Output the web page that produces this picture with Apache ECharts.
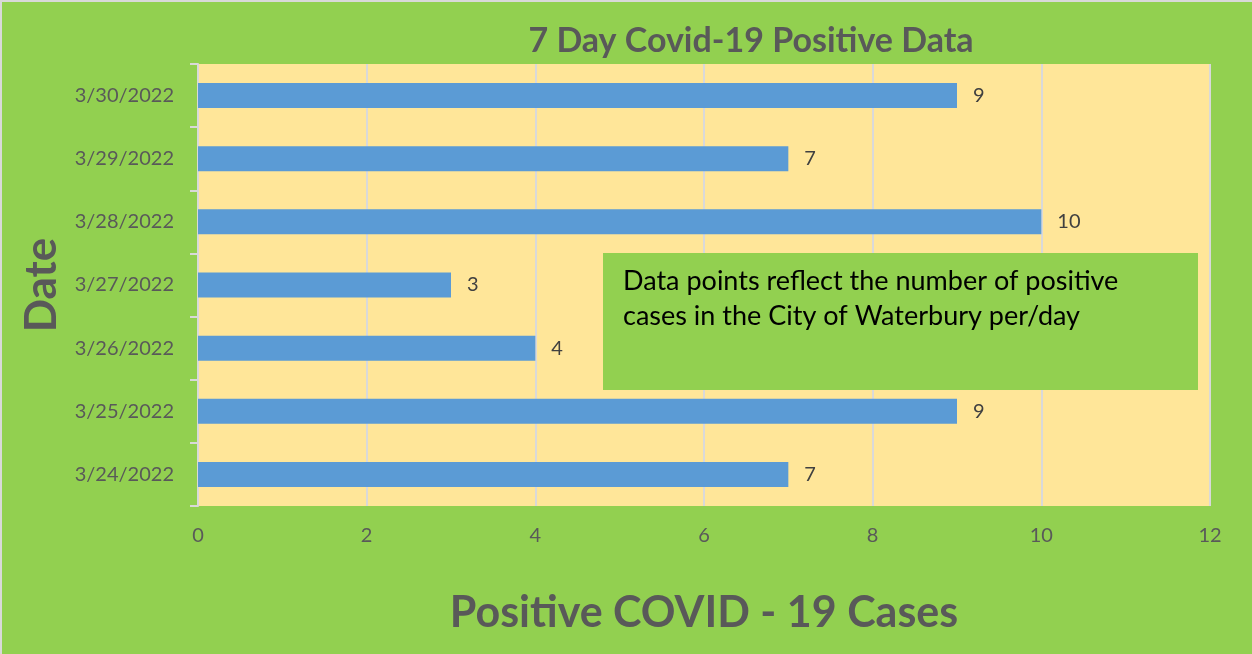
<!DOCTYPE html>
<html>
<head>
<meta charset="utf-8">
<script src="https://cdn.jsdelivr.net/npm/echarts@6/dist/echarts.min.js"></script>
<style>
  html, body { margin: 0; padding: 0; background: #ffffff; }
  #chart { width: 1252px; height: 654px; }
</style>
</head>
<body>
<div id="chart"></div>
<script>
// dates, bottom to top like the category axis
var dates = ['3/24/2022', '3/25/2022', '3/26/2022', '3/27/2022', '3/28/2022', '3/29/2022', '3/30/2022'];
var cases = [7, 9, 4, 3, 10, 7, 9];
var xTicks = [0, 2, 4, 6, 8, 10, 12];

var chart = echarts.init(document.getElementById('chart'));
var font = 'Lato, "Open Sans", sans-serif';

var option = {
    backgroundColor: '#ffffff',
    animation: false,
    title: {
        text: '7 Day Covid-19 Positive Data',
        left: 746,
        textAlign: 'center',
        top: 19,
        textStyle: { fontFamily: font, fontSize: 34, fontWeight: 'bold', color: '#595959' }
    },
    grid: {
        left: 198,
        top: 64,
        right: 42,
        bottom: 148,
        show: true,
        backgroundColor: '#FFE699',
        borderWidth: 0
    },
    xAxis: {
        type: 'value',
        min: xTicks[0],
        max: xTicks[xTicks.length - 1],
        interval: 2,
        name: 'Positive COVID - 19 Cases',
        nameLocation: 'middle',
        nameGap: 86,
        nameTextStyle: { fontFamily: font, fontSize: 43, fontWeight: 'bold', color: '#595959' },
        axisLine: { show: false },
        axisTick: { show: false },
        axisLabel: { fontFamily: font, fontSize: 20, color: '#595959', margin: 20 },
        splitLine: { show: true, lineStyle: { color: '#D9D9D9', width: 2 } }
    },
    yAxis: {
        type: 'category',
        data: dates,
        name: 'Date',
        nameLocation: 'middle',
        nameGap: 134,
        nameRotate: 90,
        nameTextStyle: { fontFamily: font, fontSize: 44, fontWeight: 'bold', color: '#595959' },
        axisLine: { show: true, lineStyle: { color: '#D9D9D9', width: 2 } },
        axisTick: { show: true, length: 8, lineStyle: { color: '#D9D9D9', width: 2 } },
        axisLabel: { fontFamily: font, fontSize: 20, color: '#595959', margin: 24 }
    },
    series: [{
        type: 'bar',
        data: cases,
        barWidth: 25,
        itemStyle: { color: '#5B9BD5' },
        label: {
            show: true,
            position: 'right',
            distance: 16,
            fontFamily: font,
            fontSize: 20,
            color: '#404040'
        }
    }],
    graphic: [
        {
            type: 'rect',
            left: 0, top: 0, z: -10,
            shape: { x: 6, y: 5, width: 1260, height: 660 },
            style: { fill: '#92D050', stroke: '#D9D9D9', lineWidth: 2 }
        },
        {
            type: 'rect',
            z: 100,
            shape: { x: 603, y: 253, width: 595, height: 137 },
            style: { fill: '#92D050' }
        },
        {
            type: 'text',
            z: 101,
            x: 623, y: 264,
            style: {
                text: 'Data points reflect the number of positive\ncases in the City of Waterbury per/day',
                fontFamily: font,
                fontSize: 27,
                lineHeight: 35,
                fill: '#000000'
            }
        }
    ]
};

chart.setOption(option);
</script>
</body>
</html>
